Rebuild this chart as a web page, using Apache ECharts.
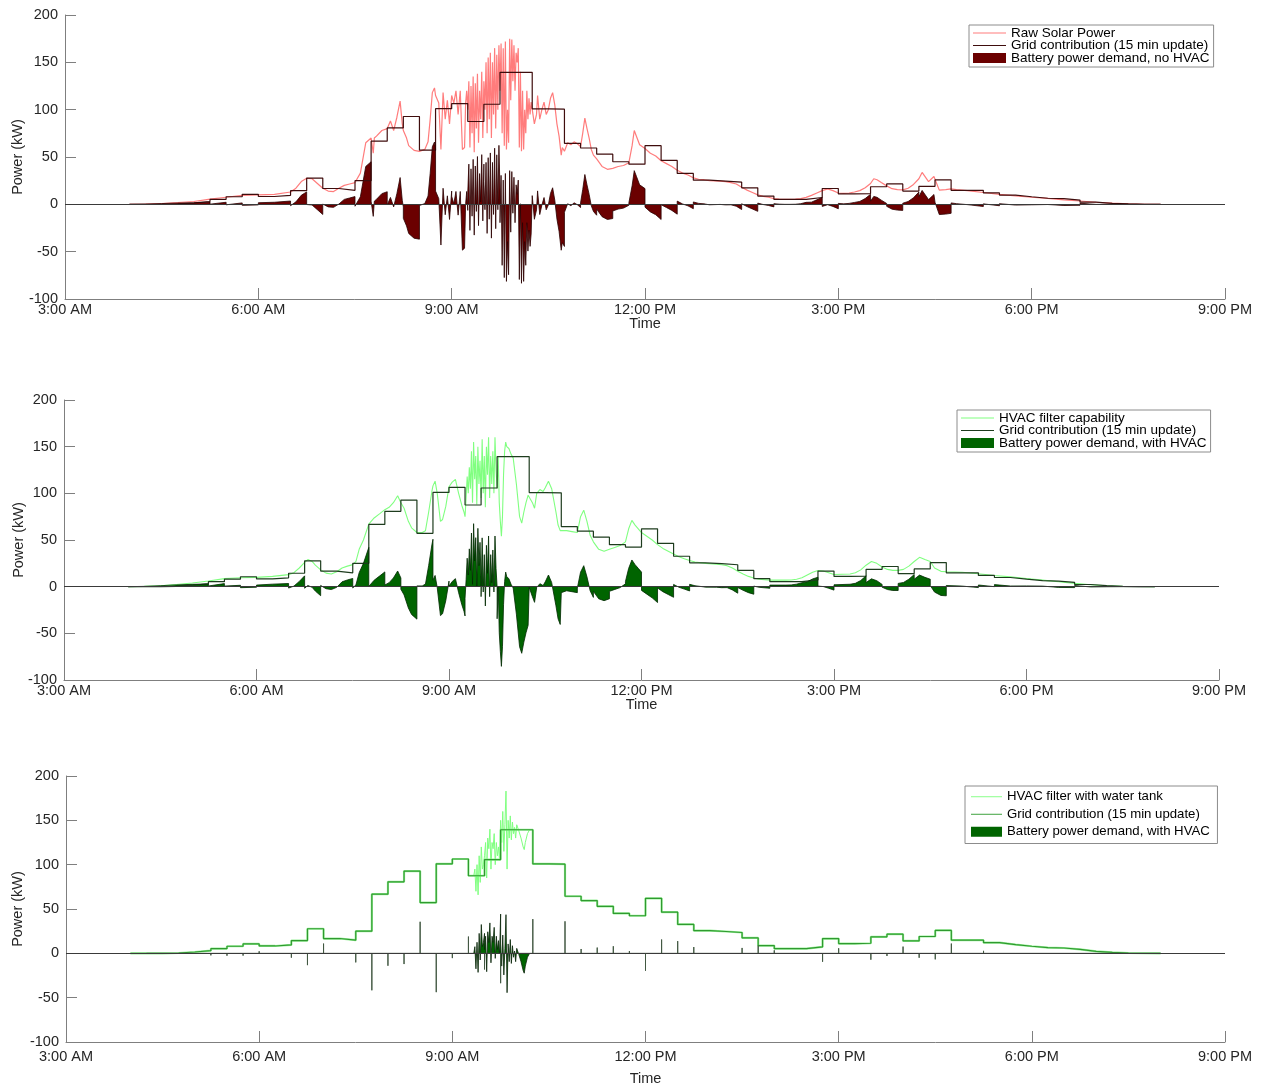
<!DOCTYPE html>
<html><head><meta charset="utf-8">
<script src="https://cdn.jsdelivr.net/npm/echarts@6/dist/echarts.min.js"></script>
<style>html,body{margin:0;padding:0;background:#fff}#c{width:1261px;height:1086px}</style>
</head><body><div id="c"></div>
<script>
// ---- tick labels (x in minutes after midnight) ----
const xTicks = [180, 360, 540, 720, 900, 1080, 1260];
const xTickLabels = ['3:00 AM', '6:00 AM', '9:00 AM', '12:00 PM', '3:00 PM', '6:00 PM', '9:00 PM'];

// ---- grid contribution, 15-min steps starting 4:00 AM (kW) ----
const gridStartMin = 240;
const gridKW = [0, 0, 0.4, 1.5, 3, 5.3, 8, 10.6, 8.3, 9.5, 14.4, 27.7, 16.7, 14.8, 25, 66.7,
  80.7, 92.8, 57.2, 101, 106.4, 87.5, 105.7, 139.4, 139.4, 100.8, 100.5, 64.4, 59.5, 53, 45, 42.4,
  62, 46.4, 32.6, 25.5, 24.6, 23.5, 17.4, 8.7, 5.3, 5.3, 7.2, 16.7, 11, 11.4, 18.6, 21.6,
  14, 19, 25.8, 14.8, 14.8, 12, 9.8, 8, 6.4, 6, 4.5, 2.3, 1.1, 0.4, 0.1, 0];

// ---- raw solar power [minute, kW] ----
const rawSolar = [[240,0],[255,0.2],[270,0.8],[285,1.8],[300,3],[315,5.5],[330,7.5],[345,9.5],[360,10],[375,10.5],
  [390,13],[395,17],[400,24],[405,27.5],[410,27],[415,22],[420,17],[425,14],[430,13.5],[435,17],[440,20],[445,21.5],
  [450,23],[455,33],[460,65],[465,70],[466,68],[467,54],[468,70],[470,72],[475,78],[480,80],[483,88],[486,78],[489,92],
  [492,109],[494,85],[495,78],[498,70],[500,62],[505,57],[510,56],[515,58],[518,66],[520,90],[522,118],[524,123],
  [525,115],[528,107],[530,58],[532,118],[534,90],[536,110],[538,85],[540,115],[542,107],[544,120],[546,95],[548,120],
  [550,58],[552,60],[553,107],[554,120],
  [555,100],[556,130],[557,60],[558,125],[559,75],[560,135],[561,55],[562,128],[563,80],[564,138],[565,65],[566,120],
  [567,90],[568,140],[569,70],[570,130],[571,100],[572,150],[573,75],[574,155],[575,90],[576,160],[577,70],[578,150],
  [579,95],[580,165],[581,80],[582,158],[583,100],[584,168],[585,120],[586,170],[587,75],[588,165],[589,62],[590,172],
  [591,58],[592,100],[593,65],[594,175],[595,110],[596,174],[597,130],[598,168],[599,120],[600,160],[601,150],[602,165],
  [603,60],[604,140],[605,56],[606,120],[607,58],[608,100],[609,75],[610,120],[611,90],[612,112],[613,95],[614,108],
  [615,110],[617,85],[619,95],[620,115],[622,90],[624,100],[626,108],[628,95],[630,100],[632,112],[634,118],[636,105],
  [638,85],[640,72],[642,52],[643,60],[645,56],[648,65],[651,63],[654,66],[657,64],[660,61],[662,75],[664,91],[666,80],
  [668,70],[670,58],[672,52],[675,48],[680,40],[685,37],[690,38],[695,40],[700,41],[705,44],[708,62],[710,78],[712,72],
  [715,63],[720,59],[725,54],[730,51],[735,46],[740,43],[745,40],[750,36],[755,33],[760,31],[765,28],[770,26.5],[775,26],
  [780,25],[790,24.5],[795,24],[800,23],[805,21.5],[810,18],[815,15],[820,12.5],[825,10],[830,8.5],[835,7.5],[840,6],
  [845,5.5],[850,5.3],[855,5.3],[860,5.4],[865,6],[870,7.4],[875,9.5],[880,12],[885,14.5],[890,16.3],[895,14.5],[900,12],
  [905,11.5],[910,12],[915,13],[920,14.5],[925,17.5],[930,22],[933,27],[936,26],[940,23],[945,19.5],[950,16.5],[955,15.5],
  [960,15.2],[965,17],[970,21],[975,27],[978,33.7],[984,24],[989,29.4],[990,28],[994,15],[1000,15.5],[1005,16.3],
  [1010,15.5],[1020,14.5],[1035,12.5],[1050,10.5],[1065,9],[1080,7.5],[1095,6.2],[1110,4.8],[1125,3.5],[1140,2.2],
  [1155,1.3],[1170,0.5],[1185,0.1],[1200,0]];

// ---- HVAC filter capability [minute, kW] ----
const hvacFilter = [[240,0],[255,0.3],[270,1],[285,2.3],[300,4],[315,6],[330,8.6],[345,9.5],[360,10],[375,11],[390,12.9],
  [395,15],[400,20],[405,26],[408,29],[412,27],[415,23],[420,18],[425,14.5],[430,13.6],[435,16],[440,20],[445,22],[450,23.6],
  [453,27],[456,40],[460,50],[465,67],[470,73.6],[475,78],[480,82.5],[484,85],[488,90],[492,97.5],[495,90],[498,84],
  [502,70],[505,63],[510,58],[515,58],[518,60],[521,80],[524,102],[525,108],[527,113],[529,100],[532,70],[534,72],
  [537,86],[540,107],[543,112],[546,115],[549,100],[552,87],[554,80],
  [555,75],[556,95],[557,118],[558,100],[559,128],[560,105],[561,145],[562,90],[563,155],[564,115],[565,140],[566,88],
  [567,150],[568,110],[569,135],[570,95],[571,158],[572,100],[573,140],[574,85],[575,150],[576,120],[577,160],[578,95],
  [579,140],[580,110],[581,145],[582,100],[583,160],[584,125],[585,105],[586,140],[587,90],[588,70],[589,54],[590,75],
  [591,120],[592,145],[593,155],[594,150],[596,148],[598,142],[600,138],[603,110],[606,75],[608,68],[610,80],[612,90],
  [614,98],[615,100],[618,90],[620,84],[622,100],[625,104],[628,102],[630,106],[633,113],[636,105],[640,80],[642,66],
  [644,60],[645,58],[650,60],[655,59],[660,58],[663,75],[666,82],[669,70],[672,55],[675,48],[680,40],[685,38],[690,40],
  [695,42],[700,44],[705,48],[708,62],[711,71],[714,66],[717,62],[720,58],[725,54],[730,50],[735,45],[740,41],[745,38],
  [750,35],[755,32],[760,30],[765,28],[770,26.5],[780,25],[790,24],[795,23.5],[800,22.5],[805,20],[810,16.5],[815,13.5],
  [820,11],[825,9.3],[830,8],[840,7],[855,7],[860,7.2],[865,8],[870,9.5],[875,12.5],[880,15.5],[885,17.3],[890,16.8],
  [895,15],[900,13],[915,13.6],[920,15],[925,18],[930,23],[935,27],[940,25],[945,21],[950,18.5],[955,17.5],[960,17.5],
  [965,18.5],[970,22],[975,27],[980,31.4],[985,29],[990,27],[994,20],[1000,16.4],[1005,16],[1020,15.4],[1035,13.8],
  [1050,12],[1065,10.5],[1080,8.8],[1095,7],[1110,5.2],[1125,3.5],[1140,2],[1155,1],[1170,0.4],[1185,0.1],[1200,0]];

// ---- HVAC filter with water tank during the noisy period [minute, kW] ----
const tankNoise = [[560,87.5],[561,95],[562,70],[563,100],[564,66],[565,110],[566,80],[567,120],[568,95],[569,100],
  [570,110],[571,125],[572,85],[573,130],[574,118],[575,140],[576,95],[577,125],[578,118],[579,135],[580,100],[581,125],
  [582,110],[583,120],[584,105],[585,150],[586,125],[587,160],[588,115],[589,145],[590,183],[591,95],[592,150],[593,130],
  [594,155],[595,128],[596,148],[597,135],[598,142],[599,130],[600,145],[602,138],[604,130],[606,120],[607,117],
  [608,125],[610,135],[612,139.4]];

// ---------- helpers (build library data from the arrays above) ----------
function gridAt(t, side) {
  let idx = Math.floor((t - gridStartMin) / 15);
  if (side < 0 && (t - gridStartMin) % 15 === 0) idx -= 1;
  if (idx < 0 || idx >= gridKW.length) return 0;
  return gridKW[idx];
}
function gridSteps() {
  const p = [];
  gridKW.forEach((g, i) => { const t0 = gridStartMin + 15 * i; p.push([t0, g], [t0 + 15, g]); });
  return p;
}
function demand(samples) {
  const out = [];
  samples.forEach(([t, v]) => {
    const a = gridAt(t, -1), b = gridAt(t, 1);
    if (a !== b) { out.push([t, v - a]); out.push([t, v - b]); }
    else out.push([t, v - b]);
  });
  return out;
}
function edgeSpikes() {
  const p = [];
  for (let k = 1; k <= gridKW.length; k++) {
    const t = gridStartMin + 15 * k;
    const v = gridKW[k - 1] - (k < gridKW.length ? gridKW[k] : 0);
    p.push([t, 0], [t, v], [t, 0]);
  }
  return p;
}

const FONT = '"Liberation Sans", Arial, Helvetica, sans-serif';
const TXT = '#262626';
const AX = '#7f7f7f';
const LINE_ICON = 'path://M0,0L40,0L40,1.2L0,1.2Z';

function xAx(i, nameGap, margin) {
  return {
    type: 'value', gridIndex: i, min: 180, max: 1260, interval: 180,
    name: 'Time', nameLocation: 'middle', nameGap: nameGap, nameMoveOverlap: false,
    nameTextStyle: { fontSize: 14.5, color: TXT, fontFamily: FONT },
    axisLine: { onZero: false, lineStyle: { color: AX, width: 1 } },
    axisTick: { inside: true, length: 11, lineStyle: { color: AX } },
    axisLabel: { margin: margin, fontSize: 14.5, color: TXT, fontFamily: FONT, showMinLabel: true, showMaxLabel: true,
      hideOverlap: false,
      formatter: v => { const k = xTicks.indexOf(v); return k >= 0 ? xTickLabels[k] : ''; } },
    splitLine: { show: false }
  };
}
function yAx(i, gap) {
  return {
    type: 'value', gridIndex: i, min: -100, max: 200, interval: 50,
    name: 'Power (kW)', nameLocation: 'middle', nameGap: gap, nameMoveOverlap: false,
    nameTextStyle: { fontSize: 14.5, color: TXT, fontFamily: FONT },
    axisLine: { show: true, onZero: false, lineStyle: { color: AX, width: 1 } },
    axisTick: { show: true, inside: true, length: 11, lineStyle: { color: AX } },
    axisLabel: { margin: 7, fontSize: 14.5, color: TXT, fontFamily: FONT },
    splitLine: { show: false }
  };
}
function zeroLine() {
  return { silent: true, symbol: 'none', label: { show: false },
    lineStyle: { color: '#3a3a3a', width: 1, type: 'solid' },
    data: [[{ coord: [180, 0] }, { coord: [1260, 0] }]] };
}
function legendBox(left, top, names, fs, lh, gap, pad, iw) {
  return {
    orient: 'vertical', left: left, top: top, align: 'left',
    backgroundColor: '#fff', borderColor: '#8c8c8c', borderWidth: 1, borderRadius: 0,
    padding: pad, itemGap: gap, itemWidth: iw, itemHeight: 10, symbolKeepAspect: true,
    textStyle: { fontSize: fs, lineHeight: lh, color: '#000', fontFamily: FONT },
    selectedMode: false, data: names
  };
}

const G1 = 'Grid contribution (15 min update)';
const G2 = 'Grid contribution (15 min update) ';
const G3 = 'Grid contribution (15 min update)  ';
const B1 = 'Battery power demand, no HVAC';
const B2 = 'Battery power demand, with HVAC';
const B3 = 'Battery power demand, with HVAC ';

const C = {
  solar: '#ff7c7c', grid1: '#3f0d0d', bat1: '#6b0000', bat1Edge: '#2a0000',
  hvac: '#80ff80', grid2: '#1e3c1e', bat: '#006400', batEdge: '#002800',
  tank: '#80ff80', grid3: '#2f9a2f', spike: '#425842'
};

const option = {
  animation: false,
  backgroundColor: '#fff',
  grid: [
    { left: 65, top: 15, width: 1160, height: 284, outerBoundsMode: 'none', containLabel: false },
    { left: 64, top: 400, width: 1155, height: 280, outerBoundsMode: 'none', containLabel: false },
    { left: 66, top: 776, width: 1159, height: 266, outerBoundsMode: 'none', containLabel: false }
  ],
  xAxis: [xAx(0, 17, 3), xAx(1, 17, 3), xAx(2, 29, 7)],
  yAxis: [yAx(0, 40), yAx(1, 38), yAx(2, 41)],
  legend: [
    legendBox(969, 25, [
      { name: 'Raw Solar Power', icon: LINE_ICON, itemStyle: { color: C.solar } },
      { name: G1, icon: LINE_ICON, itemStyle: { color: C.grid1 } },
      { name: B1, icon: 'rect', itemStyle: { color: C.bat1 } }], 13.5, 13, -1.5, [1, 4, 2, 4], 33),
    legendBox(957, 410, [
      { name: 'HVAC filter capability', icon: LINE_ICON, itemStyle: { color: C.hvac } },
      { name: G2, icon: LINE_ICON, itemStyle: { color: C.grid2 } },
      { name: B2, icon: 'rect', itemStyle: { color: C.bat } }], 13.5, 13, -1.5, [1, 4, 2, 4], 33),
    legendBox(965, 786, [
      { name: 'HVAC filter with water tank', icon: LINE_ICON, itemStyle: { color: C.tank } },
      { name: G3, icon: LINE_ICON, itemStyle: { color: C.grid3 } },
      { name: B3, icon: 'rect', itemStyle: { color: C.bat } }], 13.2, 17.5, 0, [2, 4, 3, 6], 31)
  ],
  series: [
    // ---- panel 1 ----
    { name: 'Raw Solar Power', type: 'line', xAxisIndex: 0, yAxisIndex: 0, data: rawSolar, symbol: 'none',
      lineStyle: { color: C.solar, width: 1.2 }, itemStyle: { color: C.solar } },
    { name: G1, type: 'line', xAxisIndex: 0, yAxisIndex: 0, data: gridSteps(), symbol: 'none',
      lineStyle: { color: C.grid1, width: 1.2 }, itemStyle: { color: C.grid1 } },
    { name: B1, type: 'line', xAxisIndex: 0, yAxisIndex: 0, data: demand(rawSolar), symbol: 'none',
      lineStyle: { color: C.bat1Edge, width: 0.8 }, itemStyle: { color: C.bat1 },
      areaStyle: { color: C.bat1, opacity: 1, origin: 'auto' }, markLine: zeroLine() },
    // ---- panel 2 ----
    { name: 'HVAC filter capability', type: 'line', xAxisIndex: 1, yAxisIndex: 1, data: hvacFilter, symbol: 'none',
      lineStyle: { color: C.hvac, width: 1.1 }, itemStyle: { color: C.hvac } },
    { name: G2, type: 'line', xAxisIndex: 1, yAxisIndex: 1, data: gridSteps(), symbol: 'none',
      lineStyle: { color: C.grid2, width: 1.2 }, itemStyle: { color: C.grid2 } },
    { name: B2, type: 'line', xAxisIndex: 1, yAxisIndex: 1, data: demand(hvacFilter), symbol: 'none',
      lineStyle: { color: C.batEdge, width: 0.8 }, itemStyle: { color: C.bat },
      areaStyle: { color: C.bat, opacity: 1, origin: 'auto' }, markLine: zeroLine() },
    // ---- panel 3 ----
    { name: 'HVAC filter with water tank', type: 'line', xAxisIndex: 2, yAxisIndex: 2, data: gridSteps(), symbol: 'none',
      lineStyle: { color: '#9af09a', width: 2.2 }, itemStyle: { color: C.tank } },
    { name: 'HVAC filter with water tank', type: 'line', xAxisIndex: 2, yAxisIndex: 2, data: tankNoise, symbol: 'none',
      lineStyle: { color: C.tank, width: 1 }, itemStyle: { color: C.tank } },
    { name: G3, type: 'line', xAxisIndex: 2, yAxisIndex: 2, data: gridSteps(), symbol: 'none',
      lineStyle: { color: C.grid3, width: 1.2 }, itemStyle: { color: C.grid3 } },
    { name: B3, type: 'line', xAxisIndex: 2, yAxisIndex: 2, data: demand(tankNoise), symbol: 'none',
      lineStyle: { color: '#0a240a', width: 0.8 }, itemStyle: { color: C.bat },
      areaStyle: { color: C.bat, opacity: 1, origin: 'auto' }, markLine: zeroLine() },
    { name: B3, type: 'line', xAxisIndex: 2, yAxisIndex: 2, data: edgeSpikes(), symbol: 'none',
      lineStyle: { color: C.spike, width: 1 }, itemStyle: { color: C.bat } }
  ]
};

const chart = echarts.init(document.getElementById('c'), null, { renderer: 'canvas' });
chart.setOption(option);
</script>
</body></html>
